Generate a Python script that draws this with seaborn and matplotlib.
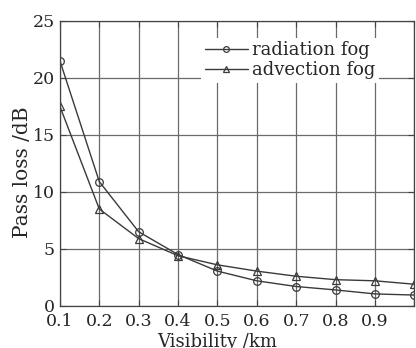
import pandas as pd
import matplotlib
matplotlib.use("Agg")
import matplotlib.pyplot as plt
import seaborn as sns

visibility = [0.1, 0.2, 0.3, 0.4, 0.5, 0.6, 0.7, 0.8, 0.9, 1.0]
radiation_loss = [21.5, 10.9, 6.5, 4.5, 3.05, 2.2, 1.7, 1.4, 1.05, 0.95]
advection_loss = [17.5, 8.5, 5.9, 4.4, 3.6, 3.05, 2.6, 2.3, 2.2, 1.9]
series_names = ["radiation fog", "advection fog"]
x_ticks = [0.1, 0.2, 0.3, 0.4, 0.5, 0.6, 0.7, 0.8, 0.9]
y_ticks = [0, 5, 10, 15, 20, 25]

df = pd.DataFrame({
    "visibility": visibility * 2,
    "loss": radiation_loss + advection_loss,
    "fog": [series_names[0]] * len(visibility) + [series_names[1]] * len(visibility),
})

sns.set_style("ticks")
plt.rcParams["font.family"] = ["DejaVu Serif"]

fig = plt.figure(figsize=(4.16, 3.48), dpi=100)
ax = fig.add_axes([0.144, 0.121, 0.852, 0.819])

line_color = "#3a3a3a"
sns.lineplot(data=df, x="visibility", y="loss", hue="fog", style="fog",
             markers={"radiation fog": "o", "advection fog": "^"}, dashes=False,
             palette=[line_color, line_color], ax=ax, linewidth=1.0,
             markersize=5.5, markerfacecolor="none", markeredgecolor=line_color,
             markeredgewidth=0.9)

ax.set_xlim(0.1, 1.0)
ax.set_ylim(0, 25)
ax.set_xticks([0.1, 0.2, 0.3, 0.4, 0.5, 0.6, 0.7, 0.8, 0.9, 1.0])
ax.set_xticklabels([f"{t:.1f}" for t in x_ticks] + [""])
ax.set_yticks(y_ticks)
ax.grid(True, color="#6a6a6a", linewidth=0.9)
ax.tick_params(axis="x", pad=5)
ax.tick_params(direction="in", top=True, right=True, labelsize=12.5, length=4,
               color="#444444")
for s in ax.spines.values():
    s.set_color("#444444")
    s.set_linewidth(0.9)

ax.set_xlabel("Visibility /km", fontsize=13)
ax.set_ylabel("Pass loss /dB", fontsize=14.5)
ax.xaxis.set_label_coords(0.445, -0.095)
ax.yaxis.set_label_coords(-0.078, 0.47)

leg = ax.legend(loc="upper right", frameon=True, fontsize=13, handlelength=2.4,
                handletextpad=0.2, borderpad=0.2, labelspacing=0.1,
                bbox_to_anchor=(0.925, 0.972), markerscale=0.75)
leg.get_frame().set_facecolor("white")
leg.get_frame().set_edgecolor("none")
leg.get_frame().set_alpha(1.0)
leg.get_frame().set_boxstyle("square", pad=0.0)

fig.savefig("out.png", dpi=100)
